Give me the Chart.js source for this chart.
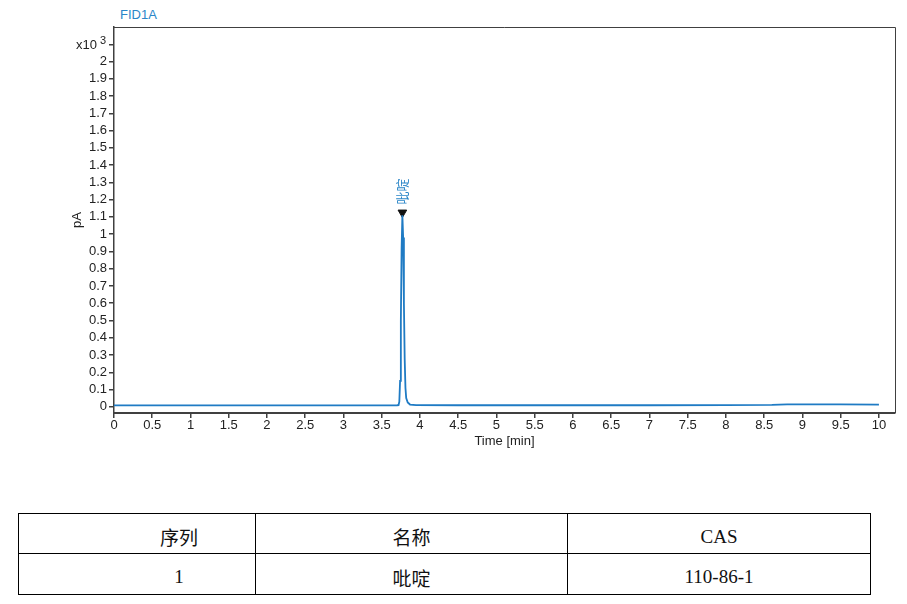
<!DOCTYPE html>
<html>
<head>
<meta charset="utf-8">
<script src="https://cdn.jsdelivr.net/npm/chart.js@4/dist/chart.umd.min.js"></script>
<style>
  body { margin: 0; background: #fff; width: 907px; height: 604px; position: relative; overflow: hidden; }
  #wrap { position: absolute; left: 0; top: 0; width: 907px; height: 460px; }
  #fid { position: absolute; left: 120px; top: 7px; font: 13px "Liberation Sans", Arial, sans-serif; color: #2a86c8; }
  table { position: absolute; left: 18px; top: 513px; width: 852px; border-collapse: collapse; table-layout: fixed;
          font-family: "Liberation Serif", "Noto Sans CJK SC", serif; font-size: 19px; color: #111; }
  td { border: 1.5px solid #000; text-align: center; padding: 6px 0 0 0; box-sizing: border-box; }
  tr.r1 td { height: 40px; }
  tr.r2 td { height: 41px; }
  td.c1 { padding-left: 84px; }
</style>
</head>
<body>
<div id="fid">FID1A</div>
<div id="wrap"><canvas id="chart" width="907" height="460"></canvas></div>
<table>
  <colgroup><col style="width:237px"><col style="width:312px"><col style="width:303px"></colgroup>
  <tr class="r1"><td class="c1">序列</td><td>名称</td><td>CAS</td></tr>
  <tr class="r2"><td class="c1">1</td><td>吡啶</td><td>110-86-1</td></tr>
</table>
<script>
// signal (pA x10^3)
const timeMin = [0, 1, 2, 3, 3.5, 3.70, 3.72, 3.73, 3.74, 3.75, 3.76, 3.77, 3.78, 3.79, 3.80, 3.81, 3.82, 3.84, 3.87, 3.95, 4.5, 5, 6, 7, 8, 8.6, 8.8, 9, 9.5, 10];
const signal  = [0.008, 0.008, 0.008, 0.008, 0.008, 0.009, 0.010, 0.03, 0.15, 0.50, 0.92, 1.109, 0.98, 0.60, 0.28, 0.11, 0.05, 0.025, 0.013, 0.010, 0.009, 0.009, 0.009, 0.009, 0.010, 0.011, 0.014, 0.014, 0.014, 0.013];
const xTicks = [0, 0.5, 1, 1.5, 2, 2.5, 3, 3.5, 4, 4.5, 5, 5.5, 6, 6.5, 7, 7.5, 8, 8.5, 9, 9.5, 10];
const yTicks = [0, 0.1, 0.2, 0.3, 0.4, 0.5, 0.6, 0.7, 0.8, 0.9, 1, 1.1, 1.2, 1.3, 1.4, 1.5, 1.6, 1.7, 1.8, 1.9, 2, 2.1];
const yExpTick = 2.1;   // where the "x10 3" multiplier sits
const peakNames = ['吡啶'];
const peakTimes = [3.77];
const peakMarks = [1.125];

const lineColor = '#1f7bc4';
const axisColor = '#404040';
const tickFont = { family: '"Liberation Sans", Arial, sans-serif', size: 13 };

// box around plot area, exponent label, peak labels
const extras = {
    id: 'extras',
    afterDraw(chart) {
        const { ctx, chartArea: a, scales: { x, y } } = chart;
        ctx.save();
        ctx.strokeStyle = axisColor;
        ctx.lineWidth = 1;
        ctx.beginPath();
        ctx.moveTo(a.left, a.top + 0.5);
        ctx.lineTo(a.right + 0.5, a.top + 0.5);
        ctx.lineTo(a.right + 0.5, a.bottom);
        ctx.stroke();

        const ey = y.getPixelForValue(yExpTick);
        ctx.fillStyle = '#222';
        ctx.textAlign = 'right';
        ctx.textBaseline = 'middle';
        ctx.font = '13px "Liberation Sans", Arial, sans-serif';
        ctx.fillText('x10', 97, ey + 1);
        ctx.textAlign = 'left';
        ctx.font = '11px "Liberation Sans", Arial, sans-serif';
        ctx.fillText('3', 100, ey - 3);

        ctx.fillStyle = '#2a86c8';
        ctx.font = '13px "Noto Sans CJK SC", sans-serif';
        ctx.textAlign = 'center';
        ctx.textBaseline = 'middle';
        peakNames.forEach((n, i) => {
            const px = x.getPixelForValue(peakTimes[i]);
            const py = y.getPixelForValue(peakMarks[i]);
            ctx.save();
            ctx.translate(px, py - 21);
            ctx.rotate(-Math.PI / 2);
            ctx.fillText(n, 0, 0);
            ctx.restore();
        });
        ctx.restore();
    }
};

new Chart(document.getElementById('chart'), {
    type: 'line',
    data: {
        datasets: [{
            data: timeMin.map((t, i) => ({ x: t, y: signal[i] })),
            borderColor: lineColor,
            borderWidth: 1.8,
            pointRadius: 0,
            tension: 0
        }, {
            type: 'scatter',
            data: peakTimes.map((t, i) => ({ x: t, y: peakMarks[i] })),
            pointStyle: 'triangle',
            rotation: 180,
            pointRadius: 5,
            backgroundColor: '#111',
            borderColor: '#111',
            borderWidth: 1
        }]
    },
    options: {
        responsive: false,
        animation: false,
        layout: { padding: { left: 66, top: 27, right: 12, bottom: 0 } },
        plugins: { legend: { display: false }, tooltip: { enabled: false } },
        scales: {
            x: {
                type: 'linear',
                min: 0,
                max: 10.21,
                afterBuildTicks: s => { s.ticks = xTicks.map(v => ({ value: v })); },
                afterFit: s => { s.height = 47; },
                border: { color: axisColor, width: 2 },
                grid: { drawOnChartArea: false, drawTicks: true, tickLength: 5, color: axisColor, lineWidth: 1.5 },
                ticks: { color: '#222', font: tickFont, padding: 0, maxRotation: 0, autoSkip: false,
                         callback: v => String(v) },
                title: { display: true, text: 'Time [min]', color: '#222', font: tickFont, padding: { top: 0, bottom: 11 } }
            },
            y: {
                min: -0.036,
                max: 2.2,
                afterBuildTicks: s => { s.ticks = yTicks.map(v => ({ value: v })); },
                afterFit: s => { s.width = 48; },
                border: { color: axisColor, width: 1.5 },
                grid: { drawOnChartArea: false, drawTicks: true, tickLength: 5, color: axisColor, lineWidth: 1.5 },
                ticks: { color: '#222', font: tickFont, padding: 2, autoSkip: false,
                         callback: v => v === yExpTick ? '' : String(v) },
                title: { display: true, text: 'pA', color: '#222', font: tickFont, padding: { top: 4, bottom: 0 } }
            }
        }
    },
    plugins: [extras]
});
</script>
</body>
</html>
